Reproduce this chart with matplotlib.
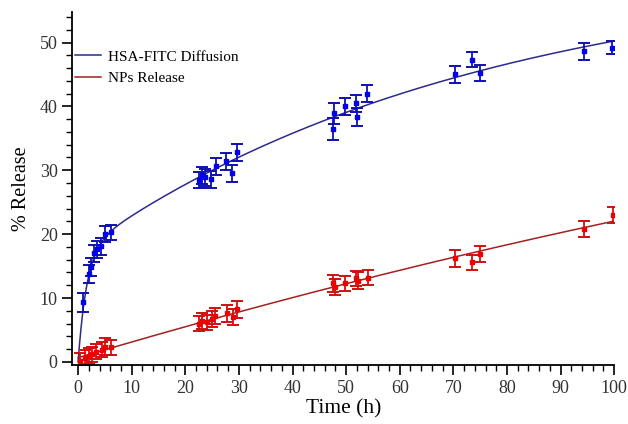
import matplotlib
matplotlib.use("Agg")
import matplotlib.pyplot as plt
from matplotlib.ticker import MultipleLocator
import numpy as np

plt.rcParams['font.family'] = ['Liberation Serif', 'DejaVu Serif']

# HSA-FITC diffusion (blue)
blue_t = [1.0, 2.0, 2.4, 3.0, 3.5, 4.2, 5.1, 6.1,
          22.6, 23.1, 23.6, 24.8, 25.7, 27.6, 28.7, 29.6,
          47.5, 47.8, 49.7, 51.8, 52.1, 53.9,
          70.3, 73.4, 75.0, 94.3, 99.6]
blue_y = [9.3, 13.8, 14.8, 17.0, 17.6, 18.1, 20.0, 20.3,
          28.5, 29.2, 28.9, 28.6, 30.6, 31.4, 29.5, 32.8,
          36.5, 38.9, 40.0, 40.5, 38.4, 42.0,
          45.0, 47.3, 45.2, 48.6, 49.2]
blue_err = [1.5, 1.4, 1.4, 1.3, 1.3, 1.3, 1.3, 1.2,
            1.3, 1.3, 1.3, 1.3, 1.3, 1.3, 1.4, 1.3,
            1.7, 1.6, 1.3, 1.3, 1.4, 1.3,
            1.3, 1.2, 1.3, 1.3, 1.0]

# NPs release (red)
red_t = [0.3, 1.3, 2.0, 2.5, 3.3, 4.4, 5.0, 6.1,
         22.6, 23.2, 24.0, 24.9, 25.6, 27.7, 28.8, 29.7,
         47.5, 47.9, 49.8, 51.8, 52.2, 54.0,
         70.3, 73.4, 75.0, 94.3, 99.7]
red_y = [0.2, 0.6, 0.9, 1.2, 1.6, 1.9, 2.4, 2.3,
         6.0, 6.4, 6.2, 6.7, 7.2, 7.6, 7.0, 8.2,
         12.3, 11.7, 12.3, 13.1, 12.7, 13.2,
         16.2, 15.6, 16.9, 20.8, 23.0]
red_err = [1.2, 1.2, 1.2, 1.2, 1.2, 1.2, 1.3, 1.2,
           1.2, 1.2, 1.2, 1.2, 1.2, 1.3, 1.2, 1.3,
           1.3, 1.2, 1.2, 1.2, 1.3, 1.2,
           1.3, 1.2, 1.3, 1.2, 1.3]


def two_phase(t, k):
    return np.column_stack([1 - np.exp(-t / 1.6), 1 - np.exp(-t / k)])


# fitted curves (least squares on the data)
tt = np.linspace(0, 100, 400)
bt = np.array(blue_t)
by = np.array(blue_y)
best = None
for k in np.linspace(20, 200, 181):
    c = np.linalg.lstsq(two_phase(bt, k), by, rcond=None)[0]
    r = np.sum((two_phase(bt, k) @ c - by) ** 2)
    if best is None or r < best[0]:
        best = (r, k, c)
blue_fit = two_phase(tt, best[1]) @ best[2]
cr = np.polyfit(red_t, red_y, 2)
red_fit = np.polyval(cr, tt)

fig = plt.figure(figsize=(6.28, 4.24), dpi=100)
ax = fig.add_axes([0.115, 0.139, 0.863, 0.833])

ax.plot(tt, blue_fit, color='#2b2b8c', lw=1.1, label='HSA-FITC Diffusion')
ax.plot(tt, red_fit, color='#a52020', lw=1.1, label='NPs Release')
ax.errorbar(blue_t, blue_y, yerr=blue_err, fmt='s', ms=3.3, color='#0000ee',
            ecolor='#1010b0', elinewidth=1.3, capsize=4.3, capthick=1.4)
ax.errorbar(red_t, red_y, yerr=red_err, fmt='s', ms=3.3, color='#ee0000',
            ecolor='#d01010', elinewidth=1.3, capsize=4.3, capthick=1.4)

ax.set_xlim(-1.1, 100)
ax.set_ylim(-0.5, 54.8)
ax.spines['top'].set_visible(False)
ax.spines['right'].set_visible(False)
for s in ['left', 'bottom']:
    ax.spines[s].set_linewidth(1.3)
ax.xaxis.set_major_locator(MultipleLocator(10))
ax.xaxis.set_minor_locator(MultipleLocator(2))
ax.yaxis.set_major_locator(MultipleLocator(10))
ax.yaxis.set_minor_locator(MultipleLocator(2))
ax.tick_params(which='major', length=7, width=1.2, labelsize=13, labelcolor='#333333')
ax.tick_params(which='minor', length=4, width=1.0)

ax.set_xlabel('Time (h)', fontsize=15.5, labelpad=2)
ax.set_ylabel('% Release', fontsize=14.5, labelpad=6)

ax.legend(loc='upper left', bbox_to_anchor=(0.005, 0.892), frameon=False,
          fontsize=11, borderpad=0, borderaxespad=0, handlelength=1.7,
          handletextpad=0.45, labelspacing=0.5)

fig.savefig('out.png', dpi=100)
